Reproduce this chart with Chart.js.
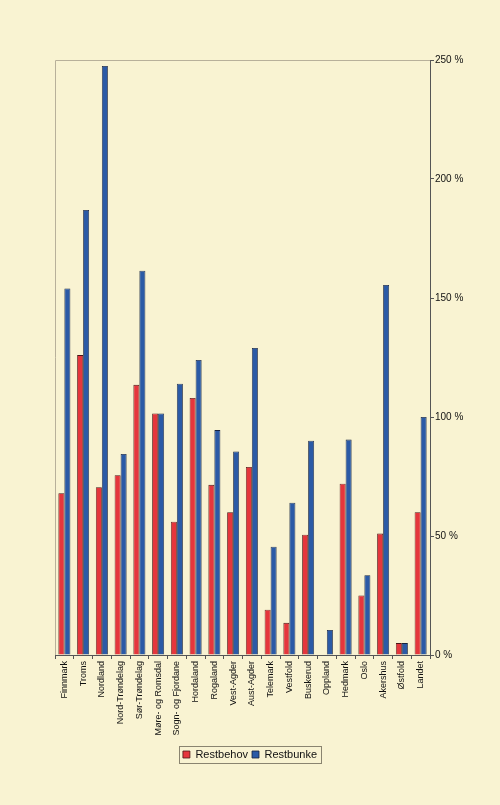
<!DOCTYPE html>
<html>
<head>
<meta charset="utf-8">
<script src="https://cdn.jsdelivr.net/npm/chart.js@4"></script>
<style>
  html, body { margin: 0; padding: 0; background: #f9f3d2; }
  canvas { display: block; }
</style>
</head>
<body>
<canvas id="grafico" width="500" height="805"></canvas>
<script>
/* Data lest av figuren */
const fylker = [
	"Finnmark", "Troms", "Nordland", "Nord-Trøndelag", "Sør-Trøndelag",
	"Møre- og Romsdal", "Sogn- og Fjordane", "Hordaland", "Rogaland", "Vest-Agder",
	"Aust-Agder", "Telemark", "Vestfold", "Buskerud", "Oppland",
	"Hedmark", "Oslo", "Akershus", "Østfold", "Landet",
];
const restbehov = [68, 126, 70.5, 75.5, 113.5, 101.5, 56, 108, 71.5, 60, 79, 19, 13.5, 50.5, 0, 72, 25, 51, 5, 60];
const restbunke = [154, 187, 247.5, 84.5, 161.5, 101.5, 114, 124, 94.5, 85.5, 129, 45.5, 64, 90, 10.5, 90.5, 33.5, 155.5, 5, 100];
const yTicks = [0, 50, 100, 150, 200, 250];

Chart.defaults.font.family = "'Liberation Sans', Arial, sans-serif";
Chart.defaults.color = "#111";

// Ramme rundt plottet (topp og venstre) og rundt legenden
const rammePlugin = {
	id: "ramme",
	afterDraw(chart) {
		const ctx = chart.ctx;
		const a = chart.chartArea;
		ctx.save();
		ctx.strokeStyle = "#b8b09a";
		ctx.lineWidth = 1;
		ctx.beginPath();
		ctx.moveTo(a.left + 0.5, a.bottom);
		ctx.lineTo(a.left + 0.5, a.top + 0.5);
		ctx.lineTo(a.right, a.top + 0.5);
		ctx.stroke();

		const boxes = chart.legend.legendHitBoxes;
		if (boxes && boxes.length) {
			const x0 = Math.min(...boxes.map((b) => b.left)) - 4;
			const x1 = Math.max(...boxes.map((b) => b.left + b.width)) + 4;
			const y0 = Math.min(...boxes.map((b) => b.top)) - 3;
			const y1 = Math.max(...boxes.map((b) => b.top + b.height)) + 3;
			ctx.strokeStyle = "#8a8470";
			ctx.strokeRect(Math.round(x0) + 0.5, Math.round(y0) + 0.5, Math.round(x1 - x0), Math.round(y1 - y0));
		}
		ctx.restore();
	},
};

const config = {
	type: "bar",
	data: {
		labels: fylker,
		datasets: [
			{
				label: "Restbehov",
				data: restbehov,
				backgroundColor: "#e5363c",
				borderColor: "#4a1616",
				borderWidth: 0.8,
			},
			{
				label: "Restbunke",
				data: restbunke,
				backgroundColor: "#2b5aa6",
				borderColor: "#16223e",
				borderWidth: 0.8,
			},
		],
	},
	options: {
		responsive: false,
		animation: false,
		devicePixelRatio: 1,
		categoryPercentage: 0.64,
		barPercentage: 1.0,
		layout: { padding: { top: 60, left: 0, right: 0, bottom: 35 } },
		plugins: {
			tooltip: { enabled: false },
			legend: {
				position: "bottom",
				labels: {
					font: { size: 11 },
					boxWidth: 7,
					boxHeight: 7,
					padding: 4,
					color: "#111",
				},
			},
		},
		scales: {
			x: {
				grid: { display: true, drawOnChartArea: false, tickLength: 4, color: "#555" },
				border: { color: "#555" },
				ticks: { minRotation: 90, maxRotation: 90, autoSkip: false, font: { size: 9 }, padding: 2 },
				afterFit(scale) { scale.height = 90; },
			},
			y: {
				position: "right",
				min: 0,
				max: 250,
				afterBuildTicks(scale) { scale.ticks = yTicks.map((v) => ({ value: v })); },
				grid: { display: true, drawOnChartArea: false, tickLength: 4, color: "#555" },
				border: { color: "#555" },
				ticks: { font: { size: 10 }, padding: 1, callback: (v) => v + " %" },
				afterFit(scale) { scale.width = 70; },
			},
			// tom akse til venstre som gir marg, slik at legenden blir midtstilt på hele bildet
			venstre: {
				position: "left",
				axis: "y",
				min: 0,
				max: 250,
				grid: { display: false },
				border: { display: false },
				ticks: { display: false },
				afterFit(scale) { scale.width = 55; },
			},
		},
	},
	plugins: [rammePlugin],
};

new Chart(document.getElementById("grafico"), config);
</script>
</body>
</html>
